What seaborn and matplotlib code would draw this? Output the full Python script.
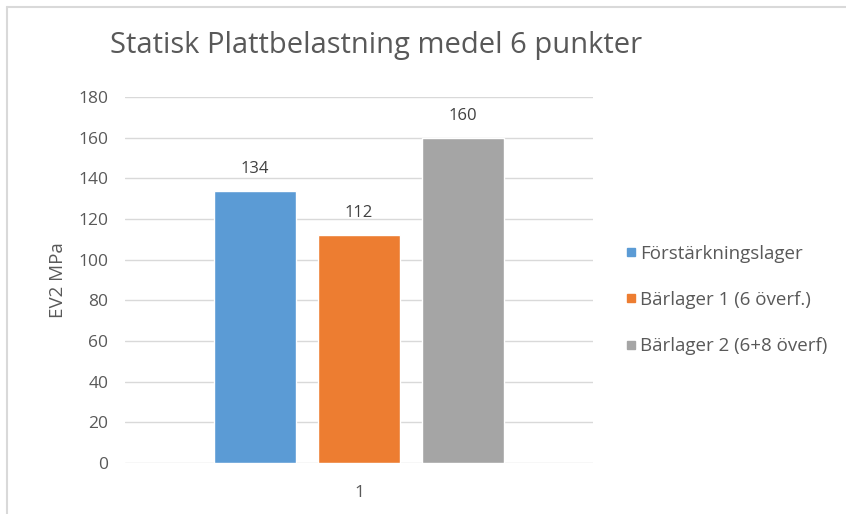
import seaborn as sns
import pandas as pd
import matplotlib.pyplot as plt
from matplotlib.lines import Line2D

# Dane
kategorie = ["1"]
serie = ["Förstärkningslager", "Bärlager 1 (6 överf.)", "Bärlager 2 (6+8 överf)"]
wartosci = [134, 112, 160]
kolory = ["#5b9bd5", "#ed7d31", "#a5a5a5"]

df = pd.DataFrame({"kat": kategorie * 3, "serie": serie, "EV2": wartosci})

sns.set_style("white")
plt.rcParams['font.family'] = ['Open Sans', 'DejaVu Sans']

fig = plt.figure(figsize=(8.46, 5.14), dpi=100)
ax = fig.add_axes([125 / 846, 1 - 463 / 514, (593 - 125) / 846, (463 - 97) / 514])

sns.barplot(data=df, x="kat", y="EV2", hue="serie", palette=kolory,
            width=0.667, gap=0.21, saturation=1, legend=False, ax=ax)

for cont in ax.containers:
    ax.bar_label(cont, padding=10, fontsize=12, color="#404040")

ax.set_ylim(0, 180)
ax.set_yticks(range(0, 181, 20))
ax.yaxis.grid(True, color="#d9d9d9", linewidth=1)
ax.set_axisbelow(True)
for s in ax.spines.values():
    s.set_visible(False)
ax.tick_params(axis="both", length=0, labelsize=12.5, labelcolor="#595959", pad=12)
ax.tick_params(axis="x", pad=16)
ax.set_xlabel("")
ax.set_ylabel("EV2 MPa", fontsize=13.5, color="#595959", labelpad=8)

# Legenda
uchwyty = [Line2D([], [], marker="s", linestyle="", color=k, markersize=6) for k in kolory]
fig.legend(uchwyty, serie, loc="upper left", bbox_to_anchor=(606 / 846, 1 - 228 / 514),
           frameon=False, fontsize=13.5, labelcolor="#595959", handletextpad=0.0,
           labelspacing=1.5, handlelength=0.9)

fig.text(110 / 846, 1 - 45 / 514, "Statisk Plattbelastning medel 6 punkter",
         fontsize=21, color="#595959", va="center", ha="left")

# ramka wykresu
fig.add_artist(Line2D([7 / 846, 1], [1 - 7 / 514, 1 - 7 / 514], color="#d9d9d9", lw=1.5))
fig.add_artist(Line2D([7 / 846, 7 / 846], [0, 1 - 7 / 514], color="#d9d9d9", lw=1.5))

plt.savefig("out.png", dpi=100)
